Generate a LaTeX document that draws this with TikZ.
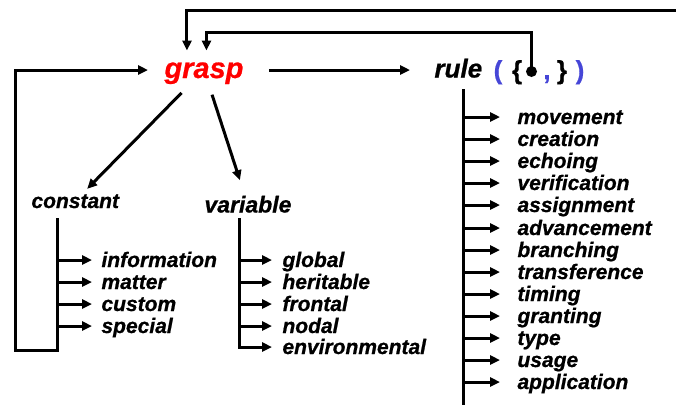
\documentclass[tikz,border=0pt]{standalone}
\usepackage{fontspec}
\setmainfont{Liberation Sans}[BoldFeatures={FakeBold=0.8}, BoldItalicFeatures={FakeBold=0.8}]
\usetikzlibrary{arrows.meta}
\definecolor{graspred}{RGB}{255,0,0}
\definecolor{parblue}{RGB}{70,70,215}

\begin{document}
\begin{tikzpicture}[
		x=1pt, y=-1pt,
		line width=3pt,
		every node/.style={inner sep=0pt, anchor=west, text depth=0pt},
		item/.style={font=\bfseries\itshape\fontsize{21}{21}\selectfont, text height=14pt},
		paren/.style={anchor=base, font=\bfseries\fontsize{26}{26}\selectfont},
		link/.style={-{Triangle[length=10pt, width=9pt]}},
		tick/.style={link, shorten >=#1}
	]
  \useasboundingbox (0,0) rectangle (676,405);

  % top row
  \node (grasp) [text=graspred, font=\bfseries\itshape\fontsize{29}{29}\selectfont, text height=16pt] at (163,70) {grasp};
  \node (rule) [font=\bfseries\itshape\fontsize{26}{26}\selectfont, text height=15pt] at (433,70) {rule};
  \node (p_open) [paren, text=parblue] at (498,79) {(};
  \node (b_open) [paren] at (517,79) {\{};
  \node (dot) [circle, fill, minimum size=11pt, anchor=center] at (531.5,71.5) {};
  \node (comma) [paren, text=parblue] at (547,79) {,};
  \node (b_close) [paren] at (562,79) {\}};
  \node (p_close) [paren, text=parblue] at (580,79) {)};
  \coordinate (edge) at (676,10);

  % second row
  \node (constant) [item] at (30,201) {constant};
  \node (variable) [font=\bfseries\itshape\fontsize{23}{23}\selectfont, text height=15pt] at (203,205) {variable};

  % constant items
  \node (information) [item] at (100,260) {information};
  \node (matter) [item] at (100,282) {matter};
  \node (custom) [item] at (100,304) {custom};
  \node (special) [item] at (100,326) {special};

  % variable items
  \node (global) [item] at (281,260) {global};
  \node (heritable) [item] at (281,282) {heritable};
  \node (frontal) [item] at (281,304) {frontal};
  \node (nodal) [item] at (281,326) {nodal};
  \node (environmental) [item] at (281,347) {environmental};

  % rule items
  \node (movement) [item] at (516,117) {movement};
  \node (creation) [item] at (516,139) {creation};
  \node (echoing) [item] at (516,161) {echoing};
  \node (verification) [item] at (516,183) {verification};
  \node (assignment) [item] at (516,205) {assignment};
  \node (advancement) [item] at (516,228) {advancement};
  \node (branching) [item] at (516,250) {branching};
  \node (transference) [item] at (516,272) {transference};
  \node (timing) [item] at (516,294) {timing};
  \node (granting) [item] at (516,316) {granting};
  \node (type) [item] at (516,338) {type};
  \node (usage) [item] at (516,360) {usage};
  \node (application) [item] at (516,382) {application};

  \coordinate (c_bar) at (57,218);
  \coordinate (v_bar) at (239,218);
  \coordinate (r_bar) at (463,89);

  % arrows from grasp
  \draw [link, shorten <=32pt, shorten >=17pt] (grasp.center) -- (constant.center);
  \draw [link, shorten <=26pt, shorten >=26pt] (grasp.center) -- (variable.center);
  \draw [link, shorten <=24pt, shorten >=23pt] (grasp.east) -- (rule.west);

  % loops back to grasp
  \draw [link] (edge) -| ([xshift=-17pt, yshift=10pt]grasp.north);
  \draw [link] (dot.center) -- (dot |- 0,32) -| ([xshift=2.5pt, yshift=10pt]grasp.north);
  \draw [link] (c_bar) -- (c_bar |- 0,350) -| (15,70) -- ([xshift=-15pt]grasp.west);

  % constant branches
  \draw [tick=8pt] (c_bar |- information.west) -- (information.west);
  \draw [tick=8pt] (c_bar |- matter.west) -- (matter.west);
  \draw [tick=8pt] (c_bar |- custom.west) -- (custom.west);
  \draw [tick=8pt] (c_bar |- special.west) -- (special.west);

  % variable branches
  \draw [tick=9pt] (v_bar) |- (environmental.west);
  \draw [tick=9pt] (v_bar |- global.west) -- (global.west);
  \draw [tick=9pt] (v_bar |- heritable.west) -- (heritable.west);
  \draw [tick=9pt] (v_bar |- frontal.west) -- (frontal.west);
  \draw [tick=9pt] (v_bar |- nodal.west) -- (nodal.west);

  % rule branches
  \draw (r_bar) -- (r_bar |- 0,405);
  \draw [tick=16pt] (r_bar |- movement.west) -- (movement.west);
  \draw [tick=16pt] (r_bar |- creation.west) -- (creation.west);
  \draw [tick=16pt] (r_bar |- echoing.west) -- (echoing.west);
  \draw [tick=16pt] (r_bar |- verification.west) -- (verification.west);
  \draw [tick=16pt] (r_bar |- assignment.west) -- (assignment.west);
  \draw [tick=16pt] (r_bar |- advancement.west) -- (advancement.west);
  \draw [tick=16pt] (r_bar |- branching.west) -- (branching.west);
  \draw [tick=16pt] (r_bar |- transference.west) -- (transference.west);
  \draw [tick=16pt] (r_bar |- timing.west) -- (timing.west);
  \draw [tick=16pt] (r_bar |- granting.west) -- (granting.west);
  \draw [tick=16pt] (r_bar |- type.west) -- (type.west);
  \draw [tick=16pt] (r_bar |- usage.west) -- (usage.west);
  \draw [tick=16pt] (r_bar |- application.west) -- (application.west);
\end{tikzpicture}
\end{document}
